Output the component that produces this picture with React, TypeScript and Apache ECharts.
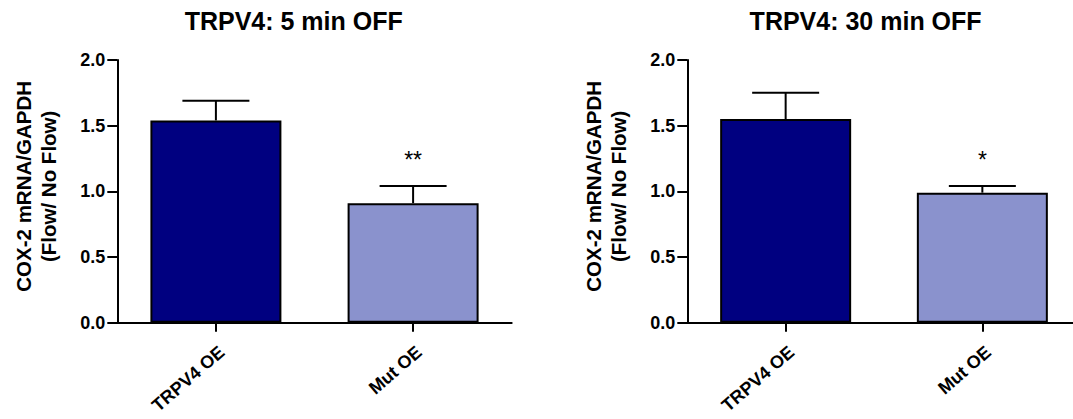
import React, { useEffect, useRef } from "react";
import * as echarts from "echarts";

const categories = ["TRPV4 OE", "Mut OE"];
const panelTitles = ["TRPV4: 5 min OFF", "TRPV4: 30 min OFF"];
const means5 = [1.54, 0.91];
const sem5 = [0.15, 0.13];
const sig5 = ["", "**"];
const means30 = [1.55, 0.99];
const sem30 = [0.2, 0.05];
const sig30 = ["", "*"];
const barColors = ["#000080", "#8A92CD"];
const yMin = 0;
const yMax = 2;
const yInterval = 0.5;
const yAxisName = "COX-2 mRNA/GAPDH\n(Flow/ No Flow)";

const FONT = "'Liberation Sans', Arial, sans-serif";

function makeErrorSeries(idx: number, means: number[], sems: number[], sigs: string[]) {
  return {
    type: "custom",
    xAxisIndex: idx,
    yAxisIndex: idx,
    z: 5,
    data: means.map((m, i) => [i, m, sems[i]]),
    renderItem: (params: any, api: any) => {
      const x = api.value(0);
      const y = api.value(1);
      const e = api.value(2);
      const base = api.coord([x, y]);
      const top = api.coord([x, y + e]);
      const half = 33.5;
      const children: any[] = [
        {
          type: "line",
          shape: { x1: base[0], y1: base[1], x2: top[0], y2: top[1] },
          style: { stroke: "#000", lineWidth: 2 },
        },
        {
          type: "line",
          shape: { x1: top[0] - half, y1: top[1], x2: top[0] + half, y2: top[1] },
          style: { stroke: "#000", lineWidth: 2 },
        },
      ];
      const s = sigs[params.dataIndex];
      if (s) {
        children.push({
          type: "text",
          x: top[0],
          y: top[1] - 26,
          style: {
            text: s,
            fill: "#000",
            font: `23px ${FONT}`,
            align: "center",
            verticalAlign: "middle",
          },
        });
      }
      return { type: "group", children };
    },
  };
}

function makeBarSeries(idx: number, means: number[]) {
  return {
    type: "bar",
    xAxisIndex: idx,
    yAxisIndex: idx,
    barWidth: 131,
    z: 3,
    data: means.map((m, i) => ({
      value: m,
      itemStyle: { color: barColors[i], borderColor: "#000", borderWidth: 2 },
    })),
  };
}

export default function App() {
  const ref = useRef<HTMLDivElement>(null);
  useEffect(() => {
    if (!ref.current) return;
    const chart = echarts.init(ref.current, null, { renderer: "svg" });
    const grids = [
      { left: 117.3, top: 60, width: 394.4, height: 262.7, containLabel: false, outerBoundsMode: "none" },
      { left: 687.3, top: 60, width: 393.4, height: 262.7, containLabel: false, outerBoundsMode: "none" },
    ];
    const xAxes = grids.map((_, i) => ({
      type: "category",
      gridIndex: i,
      data: categories,
      axisLine: { show: true, lineStyle: { color: "#000", width: 2 } },
      axisTick: { show: true, alignWithLabel: true, length: 9, lineStyle: { color: "#000", width: 2 } },
      axisLabel: {
        rotate: 41,
        margin: 20,
        verticalAlign: "top",
        color: "#000",
        fontFamily: FONT,
        fontWeight: "bold",
        fontSize: 18,
      },
    }));
    const yAxes = grids.map((_, i) => ({
      type: "value",
      gridIndex: i,
      min: yMin,
      max: yMax,
      interval: yInterval,
      splitLine: { show: false },
      axisLine: { show: true, lineStyle: { color: "#000", width: 2 } },
      axisTick: { show: true, length: 10, lineStyle: { color: "#000", width: 2 } },
      axisLabel: {
        margin: 12,
        color: "#000",
        fontFamily: FONT,
        fontWeight: "bold",
        fontSize: 18,
        formatter: (v: number) => v.toFixed(1),
      },
      name: yAxisName,
      nameLocation: "middle",
      nameRotate: 90,
      nameGap: 57,
      nameTextStyle: {
        color: "#000",
        fontFamily: FONT,
        fontWeight: "bold",
        fontSize: 20.5,
        lineHeight: 24.5,
        padding: [0, 0, 0, 10],
      },
    }));
    chart.setOption({
      animation: false,
      backgroundColor: "#fff",
      title: [
        { text: panelTitles[0], left: 293.7, top: 8, textAlign: "center", padding: 0,
          textStyle: { fontFamily: FONT, fontWeight: "bold", fontSize: 25, color: "#000" } },
        { text: panelTitles[1], left: 865.6, top: 8, textAlign: "center", padding: 0,
          textStyle: { fontFamily: FONT, fontWeight: "bold", fontSize: 25, color: "#000" } },
      ],
      grid: grids,
      xAxis: xAxes,
      yAxis: yAxes,
      series: [
        makeBarSeries(0, means5),
        makeErrorSeries(0, means5, sem5, sig5),
        makeBarSeries(1, means30),
        makeErrorSeries(1, means30, sem30, sig30),
      ],
    });
    return () => chart.dispose();
  }, []);
  return (
    <div
      ref={ref}
      style={{ position: "fixed", left: 0, top: 0, width: 1073, height: 419, background: "#fff" }}
    />
  );
}
